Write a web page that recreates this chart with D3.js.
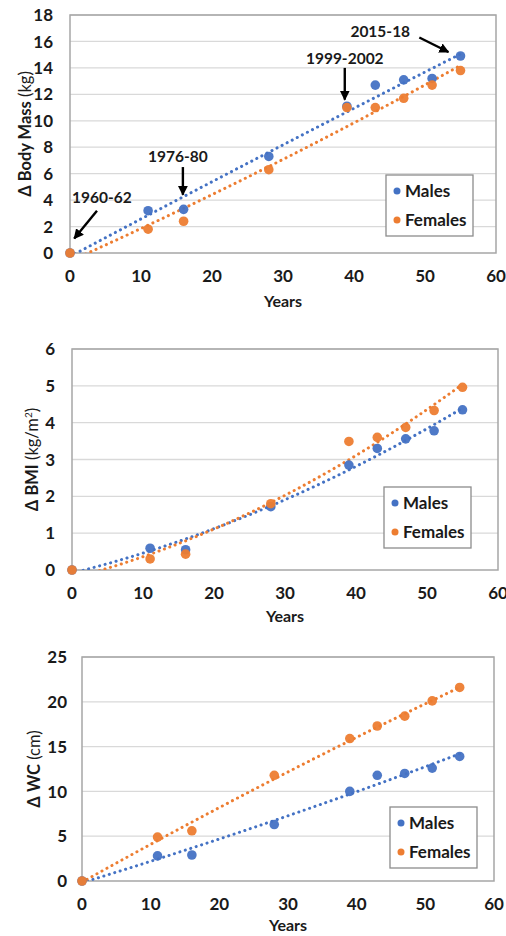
<!DOCTYPE html>
<html>
<head>
<meta charset="utf-8">
<script src="https://cdn.jsdelivr.net/npm/d3@7"></script>
<style>
  body { margin: 0; background: #fff; }
  svg { display: block; font-family: Lato, "Open Sans", sans-serif; }
</style>
</head>
<body>
<svg id="chart" width="506" height="936"></svg>
<script>
// years since 1960-62 survey
const years = [0, 11, 16, 28, 39, 43, 47, 51, 55];

const massMales = [0, 3.2, 3.3, 7.3, 11.1, 12.7, 13.1, 13.2, 14.9];
const massFemales = [0, 1.8, 2.4, 6.3, 11.0, 11.0, 11.7, 12.7, 13.8];

const bmiMales = [0, 0.59, 0.55, 1.72, 2.85, 3.3, 3.56, 3.78, 4.35];
const bmiFemales = [0, 0.3, 0.43, 1.8, 3.49, 3.6, 3.87, 4.33, 4.96];

const wcMales = [0, 2.8, 2.9, 6.3, 10.0, 11.8, 12.0, 12.6, 13.9];
const wcFemales = [0, 4.9, 5.6, 11.8, 15.9, 17.3, 18.4, 20.1, 21.6];

const xTicks = [0, 10, 20, 30, 40, 50, 60];
const seriesNames = ['Males', 'Females'];
const colors = ['#4472c4', '#ed7d31'];

// survey labels on the top panel (data units)
const surveyLabels = ['1960-62', '1976-80', '1999-2002', '2015-18'];
const surveyText = [[4.5, 3.8], [15.2, 6.9], [38.7, 14.3], [43.7, 16.3]];
const surveyArrow = [
  [[3.8, 3.2], [0.6, 1.1]],
  [[15.9, 6.5], [15.9, 4.4]],
  [[38.7, 14.0], [38.7, 11.6]],
  [[49.2, 16.3], [53.3, 15.2]],
];

const svg = d3.select('#chart');

svg.append('defs').append('marker')
    .attr('id', 'head')
    .attr('viewBox', '0 0 10 10')
    .attr('refX', 9)
    .attr('refY', 5)
    .attr('markerWidth', 4.2)
    .attr('markerHeight', 4.2)
    .attr('orient', 'auto')
  .append('path')
    .attr('d', 'M0,0L10,5L0,10z')
    .attr('fill', '#000');

// least squares, order 2 (like Excel's polynomial trendline)
function quadFit(xs, ys) {
  const s = [0, 0, 0, 0, 0];
  const t = [0, 0, 0];
  xs.forEach((x, i) => {
    for (let k = 0; k < 5; k++) s[k] += Math.pow(x, k);
    for (let k = 0; k < 3; k++) t[k] += Math.pow(x, k) * ys[i];
  });
  const m = [
    [s[0], s[1], s[2], t[0]],
    [s[1], s[2], s[3], t[1]],
    [s[2], s[3], s[4], t[2]],
  ];
  for (let c = 0; c < 3; c++) {
    for (let r = c + 1; r < 3; r++) {
      const f = m[r][c] / m[c][c];
      for (let k = c; k < 4; k++) m[r][k] -= f * m[c][k];
    }
  }
  const b = [0, 0, 0];
  for (let r = 2; r >= 0; r--) {
    let v = m[r][3];
    for (let k = r + 1; k < 3; k++) v -= m[r][k] * b[k];
    b[r] = v / m[r][r];
  }
  return x => b[0] + b[1] * x + b[2] * x * x;
}

function drawPanel(p) {
  const x = d3.scaleLinear().domain([0, 60]).range([p.left, p.right]);
  const y = d3.scaleLinear().domain([0, p.yMax]).range([p.bottom, p.top]);
  const g = svg.append('g');

  const yTicks = d3.range(0, p.yMax + p.yStep / 2, p.yStep);

  g.append('g')
    .selectAll('line')
    .data(yTicks.slice(1))
    .join('line')
      .attr('x1', p.left)
      .attr('x2', p.right)
      .attr('y1', d => y(d))
      .attr('y2', d => y(d))
      .attr('stroke', '#d9d9d9')
      .attr('stroke-width', 1.3);

  g.append('rect')
      .attr('x', p.left)
      .attr('y', p.top)
      .attr('width', p.right - p.left)
      .attr('height', p.bottom - p.top)
      .attr('fill', 'none')
      .attr('stroke', '#a6a6a6')
      .attr('stroke-width', 1.5);

  g.append('g')
    .selectAll('text')
    .data(yTicks)
    .join('text')
      .attr('x', p.left - p.yLabelGap)
      .attr('y', d => y(d))
      .attr('dy', '0.36em')
      .attr('text-anchor', 'end')
      .attr('font-size', 17)
      .attr('font-weight', 700)
      .attr('fill', '#1a1a1a')
      .text(d => d);

  g.append('g')
    .selectAll('text')
    .data(xTicks)
    .join('text')
      .attr('x', d => x(d))
      .attr('y', p.bottom + 29)
      .attr('text-anchor', 'middle')
      .attr('font-size', 17)
      .attr('font-weight', 700)
      .attr('fill', '#1a1a1a')
      .text(d => d);

  g.append('text')
      .attr('x', (p.left + p.right) / 2)
      .attr('y', p.bottom + p.xTitleGap)
      .attr('text-anchor', 'middle')
      .attr('font-size', 16)
      .attr('font-weight', 700)
      .attr('fill', '#1a1a1a')
      .text('Years');

  const yt = g.append('text')
      .attr('transform', `translate(${p.yTitleX},${(p.top + p.bottom) / 2}) rotate(-90)`)
      .attr('text-anchor', 'middle')
      .attr('font-size', 16.5)
      .attr('fill', '#1a1a1a');
  yt.append('tspan').attr('font-weight', 700).text('\u0394 ' + p.title);
  yt.append('tspan').text(' ' + p.unit);
  if (p.sup) yt.append('tspan').attr('font-size', 10).attr('dy', -6).text(p.sup);
  if (p.sup) yt.append('tspan').attr('dy', 6).text(')');

  const clipId = 'clip' + p.top;
  svg.append('clipPath').attr('id', clipId)
    .append('rect')
      .attr('x', p.left)
      .attr('y', p.top)
      .attr('width', p.right - p.left)
      .attr('height', p.bottom - p.top);

  const line = d3.line()
      .x(d => x(d[0]))
      .y(d => y(d[1]));

  p.series.forEach((vals, i) => {
    const fit = quadFit(years, vals);
    const xs = d3.range(0, 55.01, 0.5);
    g.append('path')
        .datum(xs.map(v => [v, fit(v)]))
        .attr('clip-path', `url(#${clipId})`)
        .attr('fill', 'none')
        .attr('stroke', colors[i])
        .attr('stroke-width', 3)
        .attr('stroke-linecap', 'round')
        .attr('stroke-dasharray', '0.1 5.6')
        .attr('d', line);
  });

  p.series.forEach((vals, i) => {
    g.append('g')
      .selectAll('circle')
      .data(years)
      .join('circle')
        .attr('cx', d => x(d))
        .attr('cy', (d, j) => y(vals[j]))
        .attr('r', 4.8)
        .attr('fill', colors[i])
        .attr('fill-opacity', 0.95);
  });

  const lg = g.append('g')
      .attr('transform', `translate(${p.right - p.legendRight - 87},${p.bottom - p.legendBottom - 61})`);
  lg.append('rect')
      .attr('width', 87)
      .attr('height', 61)
      .attr('fill', '#fff')
      .attr('stroke', '#8c8c8c')
      .attr('stroke-width', 1.3);
  seriesNames.forEach((name, i) => {
    lg.append('circle')
        .attr('cx', 11)
        .attr('cy', 16 + i * 29)
        .attr('r', 3.5)
        .attr('fill', colors[i]);
    lg.append('text')
        .attr('x', 19)
        .attr('y', 16 + i * 29)
        .attr('dy', '0.36em')
        .attr('font-size', 17)
        .attr('font-weight', 700)
        .attr('fill', '#1a1a1a')
        .text(name);
  });

  return { x, y, g };
}

const massPanel = drawPanel({
  left: 70, right: 496, top: 15, bottom: 253,
  yMax: 18, yStep: 2, yLabelGap: 17, yTitleX: 31, xTitleGap: 54,
  title: 'Body Mass', unit: '(kg)',
  series: [massMales, massFemales],
  legendRight: 23, legendBottom: 17,
});

surveyLabels.forEach((label, i) => {
  massPanel.g.append('text')
      .attr('x', massPanel.x(surveyText[i][0]))
      .attr('y', massPanel.y(surveyText[i][1]))
      .attr('text-anchor', 'middle')
      .attr('font-size', 15.5)
      .attr('font-weight', 700)
      .attr('fill', '#1a1a1a')
      .text(label);
  const a = surveyArrow[i];
  massPanel.g.append('line')
      .attr('x1', massPanel.x(a[0][0]))
      .attr('y1', massPanel.y(a[0][1]))
      .attr('x2', massPanel.x(a[1][0]))
      .attr('y2', massPanel.y(a[1][1]))
      .attr('stroke', '#000')
      .attr('stroke-width', 2.4)
      .attr('marker-end', 'url(#head)');
});

drawPanel({
  left: 72, right: 498, top: 349, bottom: 570,
  yMax: 6, yStep: 1, yLabelGap: 17, yTitleX: 38, xTitleGap: 52,
  title: 'BMI', unit: '(kg/m', sup: '2',
  series: [bmiMales, bmiFemales],
  legendRight: 27, legendBottom: 22,
});

drawPanel({
  left: 82, right: 494, top: 657, bottom: 881,
  yMax: 25, yStep: 5, yLabelGap: 15, yTitleX: 40, xTitleGap: 50,
  title: 'WC', unit: '(cm)',
  series: [wcMales, wcFemales],
  legendRight: 17, legendBottom: 13,
});
</script>
</body>
</html>
